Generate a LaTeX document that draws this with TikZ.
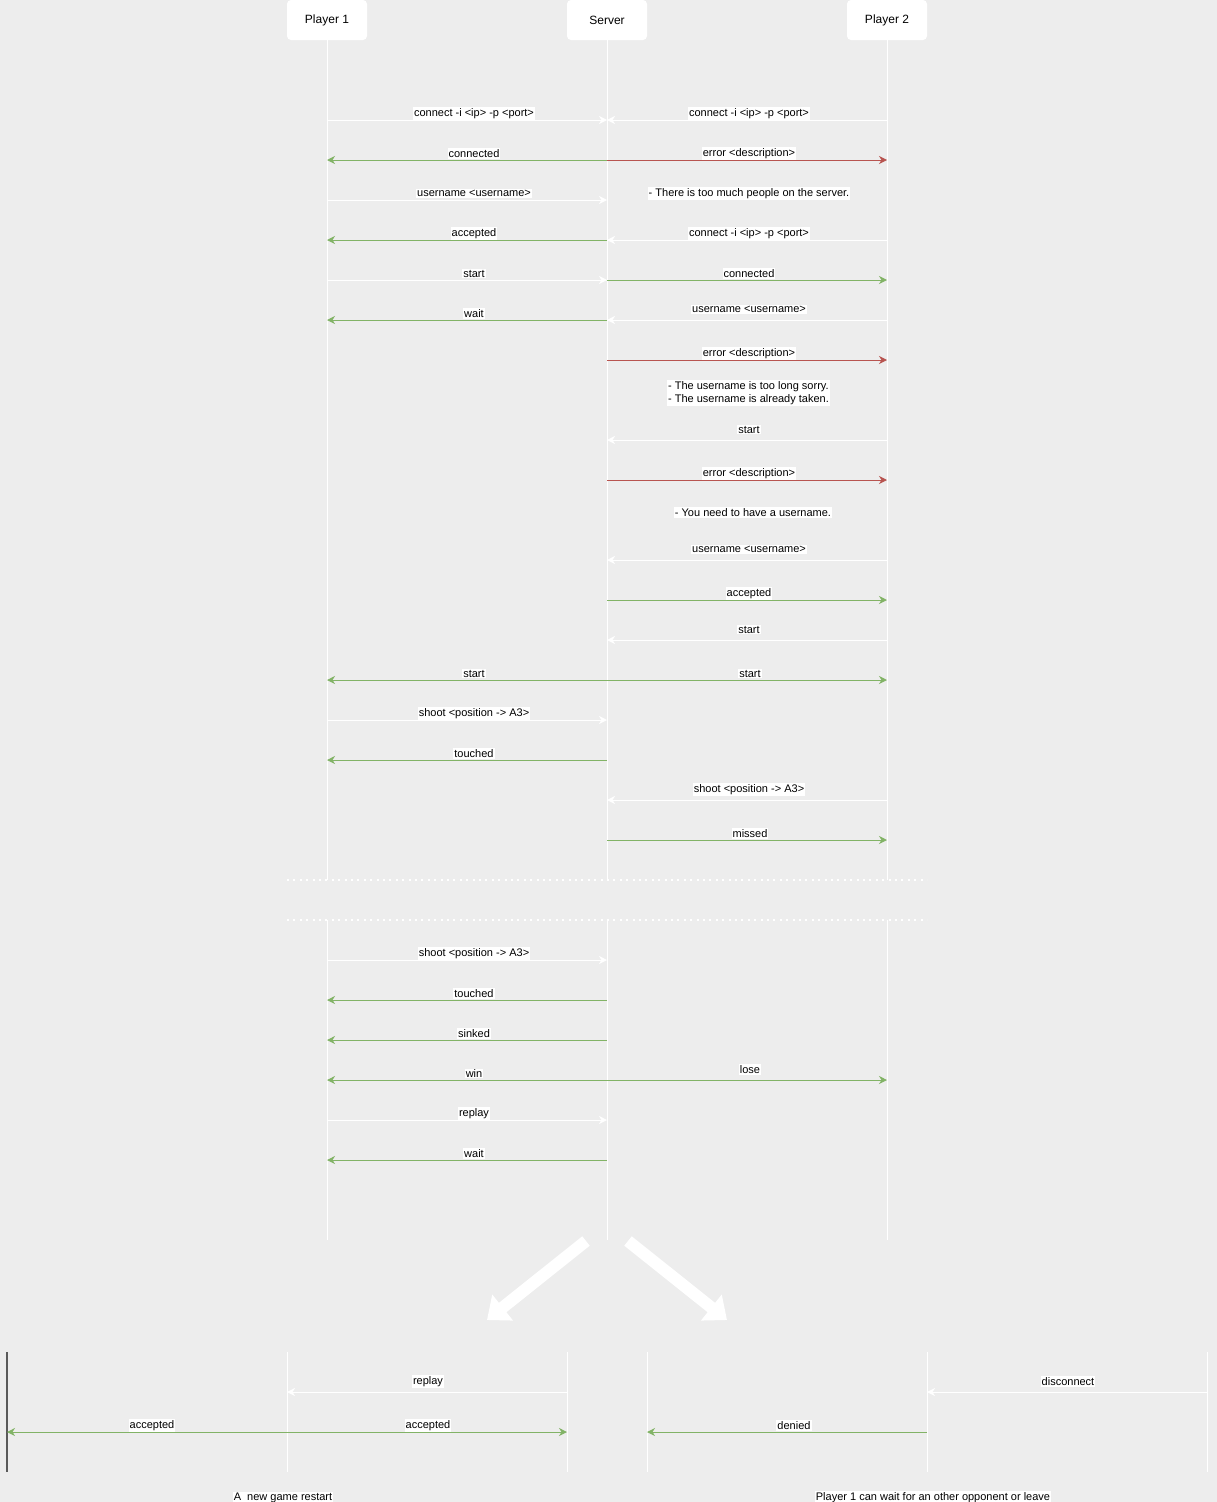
\documentclass[tikz,border=0pt]{standalone}
\usepackage{fontspec}
\setmainfont{Liberation Sans}
\usetikzlibrary{arrows.meta,positioning}

\definecolor{bg}{HTML}{EDEDED}
\definecolor{okgreen}{HTML}{82B366}
\definecolor{errred}{HTML}{B85450}
\definecolor{darkline}{HTML}{5A5A5A}

\tikzset{
  actor/.style={fill=white, rounded corners=4pt, minimum width=80pt, minimum height=40pt,
    font=\fontsize{12}{14}\selectfont},
  life/.style={white, line width=1pt},
  msg/.style={line width=1pt, -{Stealth[length=8pt,width=8pt,inset=2.5pt]}},
  wmsg/.style={msg, white},
  gmsg/.style={msg, okgreen},
  rmsg/.style={msg, errred},
  lbl/.style={fill=white, text=black, inner sep=1pt, font=\fontsize{11}{13}\selectfont},
  tl/.style={lbl, xshift=7pt, yshift=6.5pt},
  tr/.style={lbl, xshift=2pt, yshift=6.5pt},
  note/.style={lbl, align=left},
  sep/.style={white, line width=2pt, dash pattern=on 2pt off 4.4pt},
  bigarrow/.style={white, line width=12pt, -{Triangle[length=20pt,width=32pt]}}
}

\begin{document}
\begin{tikzpicture}[x=1pt, y=-1pt]
    \useasboundingbox (0,0) rectangle (1217,1502);
    \fill[bg] (0,0) rectangle (1217,1502);

    % Actors
    \node[actor] (p1) at (327,20) {Player 1};
    \node[actor] (srv) at (607,20) {Server};
    \node[actor] (p2) at (887,20) {Player 2};

    % Rows on the lifelines
    \foreach \r in {120,160,...,1240} {
        \coordinate (p1-\r) at (327,\r);
        \coordinate (srv-\r) at (607,\r);
        \coordinate (p2-\r) at (887,\r);
    }

    % Lifelines
    \foreach \a in {p1,srv,p2} {
        \draw[life] (\a.south) -- (\a-880);
        \draw[life] (\a-920) -- (\a-1240);
    }

    % Cut
    \draw[sep] (287,880) -- (927,880);
    \draw[sep] (287,920) -- (927,920);

    % Connection
    \draw[wmsg] (p1-120) -- node[tl] {connect -i <ip> -p <port>} (srv-120);
    \draw[wmsg] (p2-120) -- node[tr] {connect -i <ip> -p <port>} (srv-120);
    \draw[gmsg] (srv-160) -- node[tl] {connected} (p1-160);
    \draw[rmsg] (srv-160) -- node[tr] {error <description>} (p2-160);
    \node[note] (full) at (749,193.5) {- There is too much people on the server.};
    \draw[wmsg] (p1-200) -- node[tl] {username <username>} (srv-200);
    \draw[gmsg] (srv-240) -- node[tl] {accepted} (p1-240);
    \draw[wmsg] (p2-240) -- node[tr] {connect -i <ip> -p <port>} (srv-240);
    \draw[wmsg] (p1-280) -- node[tl] {start} (srv-280);
    \draw[gmsg] (srv-280) -- node[tr] {connected} (p2-280);
    \draw[gmsg] (srv-320) -- node[tl] {wait} (p1-320);
    \draw[wmsg] (p2-320) -- node[tr, yshift=4pt] {username <username>} (srv-320);

    % Errors on player 2
    \draw[rmsg] (srv-360) -- node[tr] {error <description>} (p2-360);
    \node[note] (badname) at (748.5,393) {- The username is too long sorry.\\- The username is already taken.};
    \draw[wmsg] (p2-440) -- node[tr, yshift=4pt] {start} (srv-440);
    \draw[rmsg] (srv-480) -- node[tr] {error <description>} (p2-480);
    \node[note] (noname) at (753,512.5) {- You need to have a username.};
    \draw[wmsg] (p2-560) -- node[tr, yshift=4pt] {username <username>} (srv-560);
    \draw[gmsg] (srv-600) -- node[tr] {accepted} (p2-600);
    \draw[wmsg] (p2-640) -- node[tr, yshift=4pt] {start} (srv-640);

    % Game
    \draw[gmsg] (srv-680) -- node[tl] {start} (p1-680);
    \draw[gmsg] (srv-680) -- node[tr, xshift=1pt] {start} (p2-680);
    \draw[wmsg] (p1-720) -- node[tl] {shoot <position -> A3>} (srv-720);
    \draw[gmsg] (srv-760) -- node[tl] {touched} (p1-760);
    \draw[wmsg] (p2-800) -- node[tr, yshift=4pt] {shoot <position -> A3>} (srv-800);
    \draw[gmsg] (srv-840) -- node[tr, xshift=1pt] {missed} (p2-840);

    % End of game
    \draw[wmsg] (p1-960) -- node[tl] {shoot <position -> A3>} (srv-960);
    \draw[gmsg] (srv-1000) -- node[tl] {touched} (p1-1000);
    \draw[gmsg] (srv-1040) -- node[tl] {sinked} (p1-1040);
    \draw[gmsg] (srv-1080) -- node[tl] {win} (p1-1080);
    \draw[gmsg] (srv-1080) -- node[tr, yshift=4pt, xshift=1pt] {lose} (p2-1080);
    \draw[wmsg] (p1-1120) -- node[tl] {replay} (srv-1120);
    \draw[gmsg] (srv-1160) -- node[tl] {wait} (p1-1160);

    % Two outcomes
    \coordinate (fork-l) at (586,1241);
    \coordinate (fork-r) at (628,1241);
    \coordinate (end-l) at (487,1320);
    \coordinate (end-r) at (727,1320);
    \draw[bigarrow] (fork-l) -- (end-l);
    \draw[bigarrow] (fork-r) -- (end-r);

    \foreach \r in {1352,1392,1432,1472} {
        \coordinate (rp1-\r) at (7,\r);
        \coordinate (rsrv-\r) at (287,\r);
        \coordinate (rp2-\r) at (567,\r);
        \coordinate (dp1-\r) at (647,\r);
        \coordinate (dsrv-\r) at (927,\r);
        \coordinate (dp2-\r) at (1207,\r);
    }
    \draw[darkline, line width=1.5pt] (rp1-1352) -- (rp1-1472);
    \foreach \a in {rsrv,rp2,dp1,dsrv,dp2}
        \draw[life] (\a-1352) -- (\a-1472);

    % Replay accepted
    \draw[wmsg] (rp2-1392) -- node[lbl, xshift=1pt, yshift=10.5pt] {replay} (rsrv-1392);
    \draw[gmsg] (rsrv-1432) -- node[lbl, xshift=5pt, yshift=6.5pt] {accepted} (rp1-1432);
    \draw[gmsg] (rsrv-1432) -- node[lbl, xshift=1pt, yshift=6.5pt] {accepted} (rp2-1432);
    \node[lbl] (restart) at (283,1497.5) {A\ \ new game restart};

    % Replay denied
    \draw[wmsg] (dp2-1392) -- node[lbl, xshift=1pt, yshift=10.5pt] {disconnect} (dsrv-1392);
    \draw[gmsg] (dsrv-1432) -- node[lbl, xshift=7pt, yshift=6.5pt] {denied} (dp1-1432);
    \node[lbl] (leave) at (933,1497.5) {Player 1 can wait for an other opponent or leave};
\end{tikzpicture}
\end{document}
